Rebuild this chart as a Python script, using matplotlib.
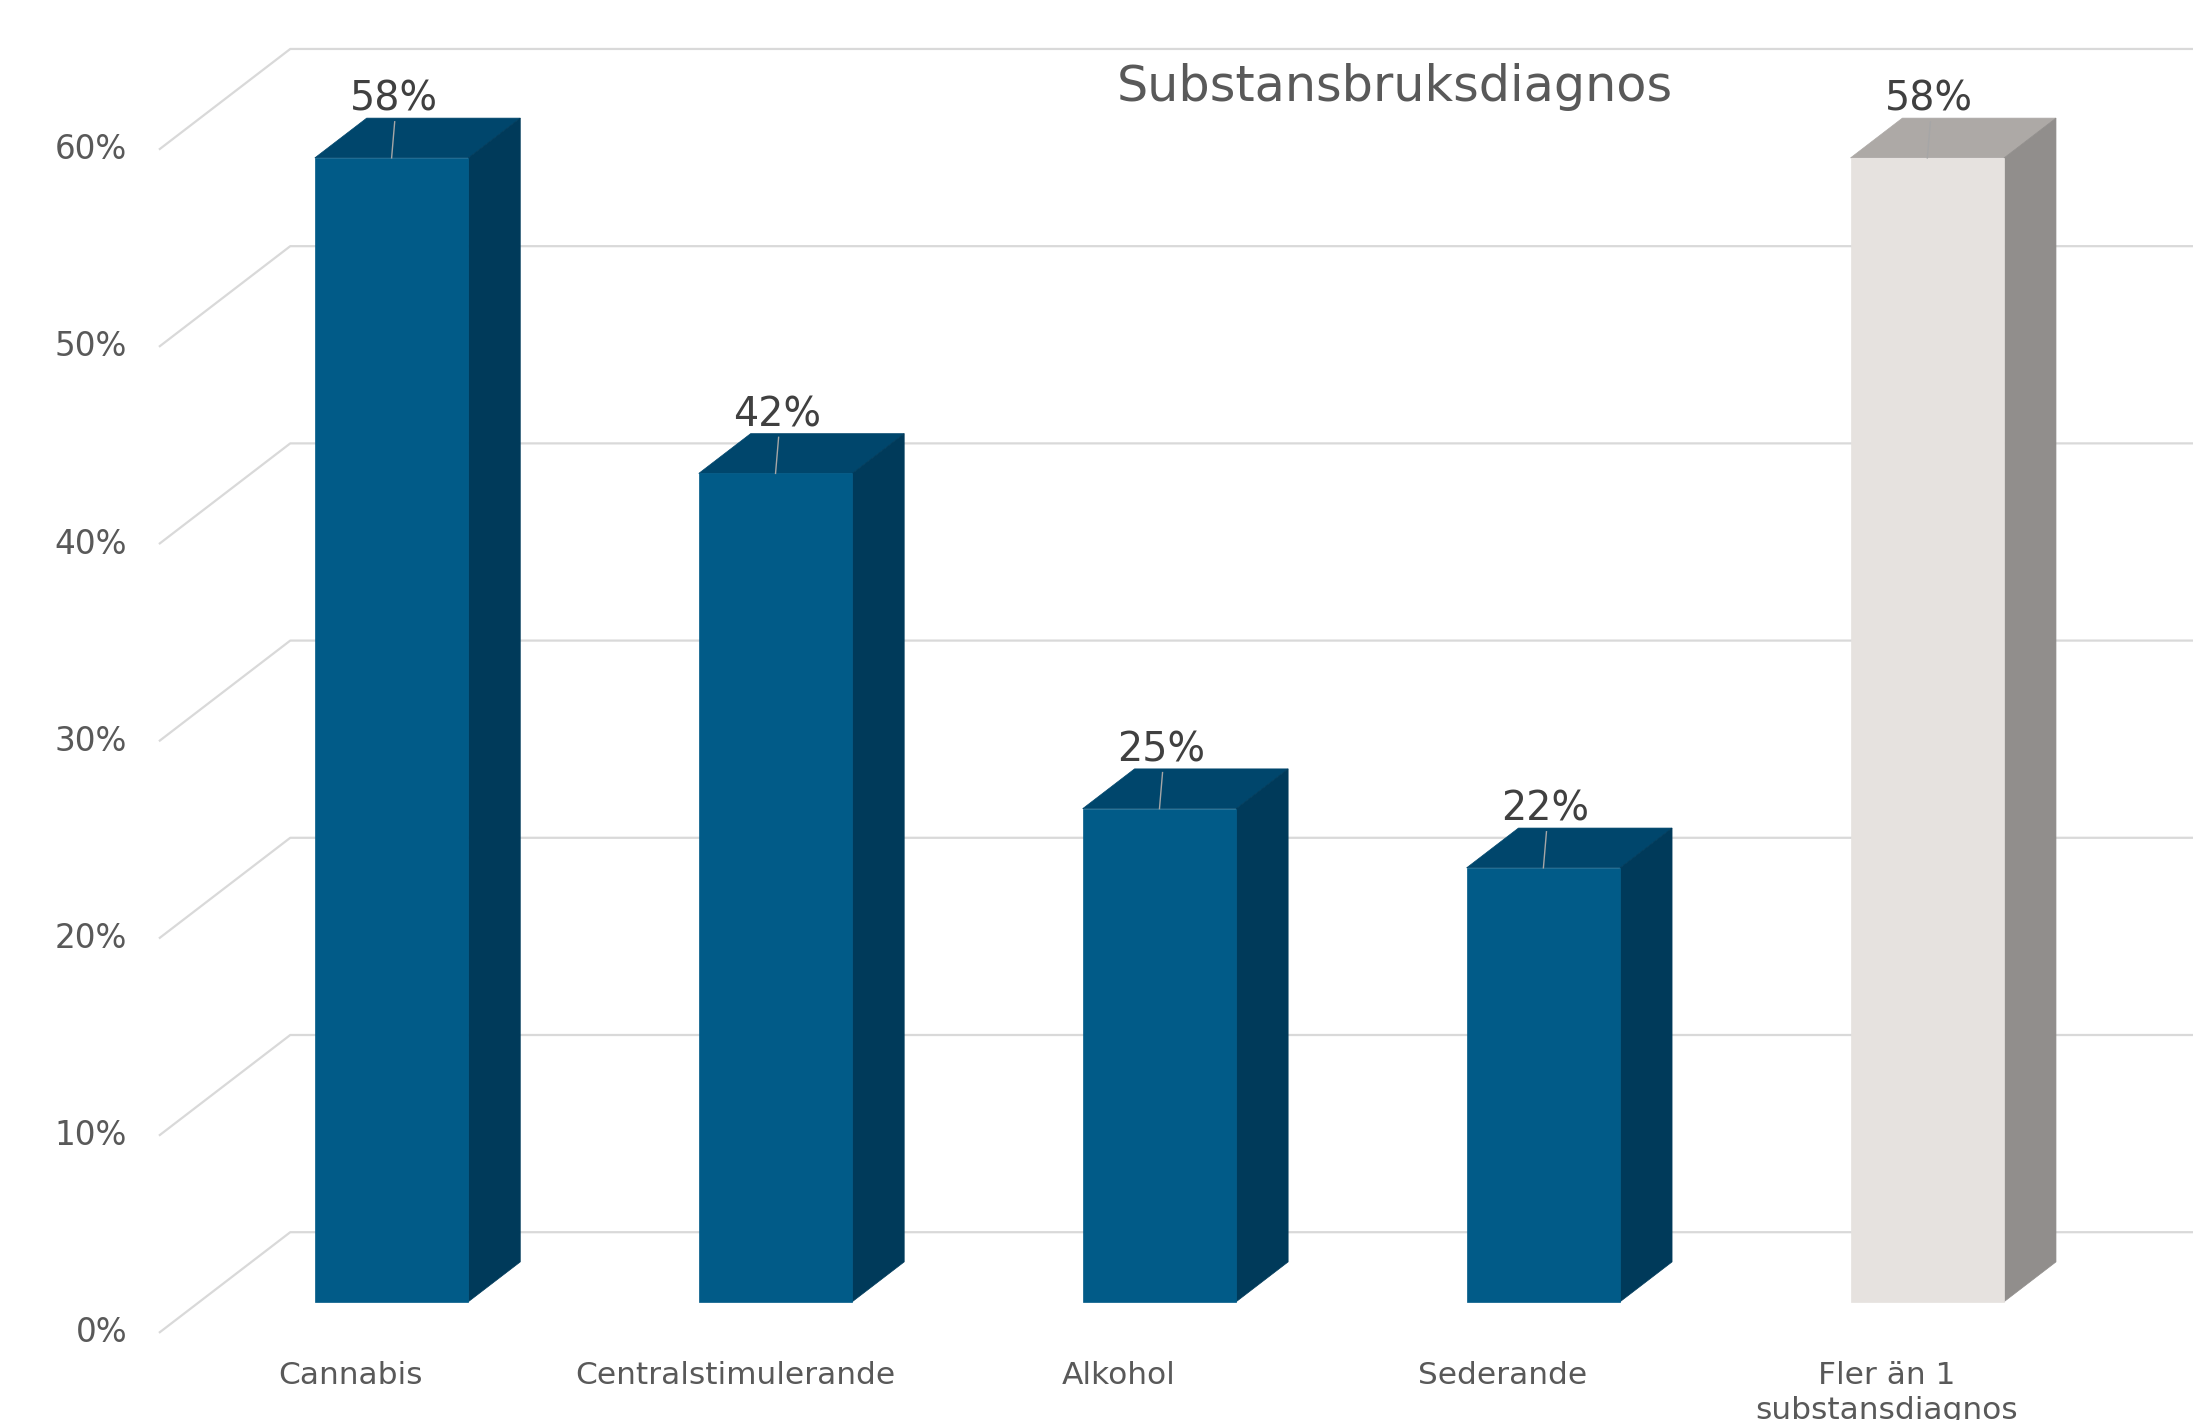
import matplotlib
matplotlib.use('Agg')
import matplotlib.pyplot as plt
from matplotlib.patches import Polygon

# ---- data ----
categories = ['Cannabis', 'Centralstimulerande', 'Alkohol', 'Sederande', 'Fler än 1\nsubstansdiagnos']
values = [58, 42, 25, 22, 58]
value_labels = ['58%', '42%', '25%', '22%', '58%']
yticks = [0, 10, 20, 30, 40, 50, 60]
ytick_labels = ['0%', '10%', '20%', '30%', '40%', '50%', '60%']
title = 'Substansbruksdiagnos'

# ---- style ----
blue = {'front': '#015B88', 'side': '#003A5A', 'top': '#00466C'}
grey = {'front': '#E6E2DF', 'side': '#918E8C', 'top': '#ADA9A6'}
bar_colors = [blue, blue, blue, blue, grey]
grid_color = '#D9D9D9'
text_color = '#595959'
label_color = '#404040'

# oblique projection parameters (data units)
DX = 0.342      # depth shift in category units
DY = 5.106      # depth shift in percent units
F1 = 0.31       # bar front depth fraction
BD = 0.395      # bar depth fraction
W = 0.40        # bar width

fig = plt.figure(figsize=(21.93, 14.2), dpi=100)
ax = fig.add_axes([0, 0, 1, 1])
ax.set_xlim(-0.914, 4.798)
ax.set_ylim(-4.417, 67.589)
ax.axis('off')

x_front = -0.5
x_right = ax.get_xlim()[1] + 0.1

# gridlines (floor/wall)
for v in yticks:
    ax.plot([x_front, x_front + DX, x_right], [v, v + DY, v + DY],
            color=grid_color, lw=1.6, zorder=1, solid_capstyle='butt')
for v, t in zip(yticks, ytick_labels):
    ax.text(-0.583, v, t, ha='right', va='center', fontsize=23.5,
            color=text_color, family='DejaVu Sans')

# bars
for i, (v, c) in enumerate(zip(values, bar_colors)):
    cx = i + F1 * DX
    y0 = F1 * DY
    xl, xr = cx - W / 2, cx + W / 2
    yt = v + y0
    ddx, ddy = BD * DX, BD * DY
    top = Polygon([(xl, yt), (xr, yt), (xr + ddx, yt + ddy), (xl + ddx, yt + ddy)],
                  closed=True, facecolor=c['top'], edgecolor=c['top'], lw=0.5, zorder=3)
    side = Polygon([(xr, y0), (xr + ddx, y0 + ddy), (xr + ddx, yt + ddy), (xr, yt)],
                   closed=True, facecolor=c['side'], edgecolor=c['side'], lw=0.5, zorder=3)
    front = Polygon([(xl, y0), (xr, y0), (xr, yt), (xl, yt)],
                    closed=True, facecolor=c['front'], edgecolor=c['front'], lw=0.5, zorder=4)
    for p in (top, side, front):
        ax.add_patch(p)
    # leader line
    ax.plot([cx, cx + 0.008], [yt, yt + 1.83], color='#A6A6A6', lw=1.0, zorder=5)
    ax.annotate(value_labels[i], (cx, yt), xytext=(2, 58), textcoords='offset pixels',
                ha='center', va='center', fontsize=28.5, color=label_color, zorder=6)

# category labels at the front plane
for i, cat in enumerate(categories):
    ax.text(i, -1.43, cat, ha='center', va='top', fontsize=22.5, color=text_color,
            linespacing=1.25)

fig.text(0.636, 0.9387, title, ha='center', va='center', fontsize=35.5, color=text_color)

fig.savefig('out.png', dpi=100, facecolor='white')
